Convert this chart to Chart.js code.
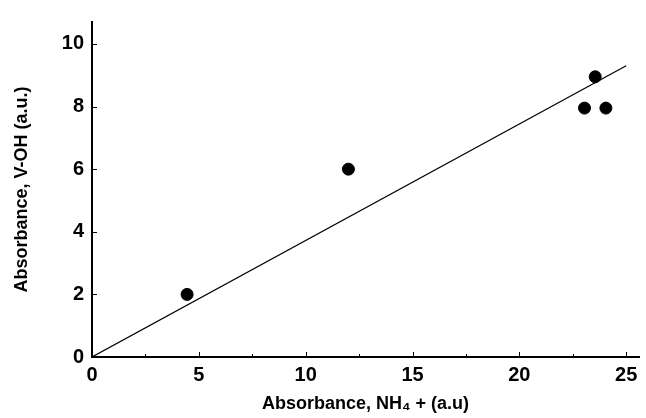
<!DOCTYPE html>
<html>
<head>
<meta charset="utf-8">
<script src="https://cdn.jsdelivr.net/npm/chart.js@4.4.1/dist/chart.umd.min.js"></script>
<style>
  html, body { margin: 0; padding: 0; background: #fff; }
  #wrap { width: 646px; height: 418px; }
</style>
</head>
<body>
<div id="wrap"><canvas id="myChart" width="646" height="418"></canvas></div>
<script>
const nh4Values = [4.45, 12.0, 23.05, 23.55, 24.05];
const vohValues = [2.0, 6.0, 7.95, 8.95, 7.95];
const fitX = [0, 25];
const fitY = [0, 9.3];
const xTicks = [0, 2.5, 5, 7.5, 10, 12.5, 15, 17.5, 20, 22.5, 25];
const yTicks = [0, 2, 4, 6, 8, 10];

const points = nh4Values.map((x, i) => ({ x: x, y: vohValues[i] }));
const fitLine = fitX.map((x, i) => ({ x: x, y: fitY[i] }));

// ticks drawn inward from the axes
const innerTicks = {
  id: 'innerTicks',
  afterDatasetsDraw(chart) {
    const ctx = chart.ctx;
    const xs = chart.scales.x;
    const ys = chart.scales.y;
    const area = chart.chartArea;
    ctx.save();
    ctx.strokeStyle = '#000';
    ctx.lineWidth = 1;
    xTicks.forEach(v => {
      const px = Math.round(xs.getPixelForValue(v)) + 0.5;
      ctx.beginPath();
      ctx.moveTo(px, area.bottom);
      ctx.lineTo(px, area.bottom - (v % 5 === 0 ? 5 : 3));
      ctx.stroke();
    });
    yTicks.forEach(v => {
      const py = Math.round(ys.getPixelForValue(v)) + 0.5;
      ctx.beginPath();
      ctx.moveTo(area.left, py);
      ctx.lineTo(area.left + 5, py);
      ctx.stroke();
    });
    ctx.restore();
  }
};

Chart.defaults.font.family = "'Liberation Sans', Arial, sans-serif";
Chart.defaults.color = '#000';

new Chart(document.getElementById('myChart'), {
  type: 'scatter',
  data: {
    datasets: [
      {
        label: 'fit',
        type: 'line',
        data: fitLine,
        borderColor: '#000',
        borderWidth: 1.2,
        pointRadius: 0,
        fill: false
      },
      {
        label: 'data',
        data: points,
        backgroundColor: '#000',
        borderColor: '#000',
        pointRadius: 6,
        pointHoverRadius: 6
      }
    ]
  },
  options: {
    responsive: false,
    animation: false,
    layout: { padding: { top: 22, right: 1, left: 0, bottom: 0 } },
    plugins: {
      legend: { display: false },
      tooltip: { enabled: false }
    },
    scales: {
      x: {
        type: 'linear',
        min: 0,
        max: 25.6,
        afterBuildTicks: s => { s.ticks = xTicks.map(v => ({ value: v })); },
        afterFit: s => { s.height = 61; },
        grid: { display: false, drawTicks: false },
        border: { display: true, color: '#000', width: 2 },
        ticks: {
          padding: 6,
          maxRotation: 0,
          autoSkip: false,
          font: { size: 20, weight: 'bold' },
          callback: v => (v % 5 === 0 ? v : '')
        },
        title: {
          display: true,
          text: 'Absorbance, NH\u2084 + (a.u)',
          font: { size: 18, weight: 'bold' },
          padding: { top: 6, bottom: 3 }
        }
      },
      y: {
        min: 0,
        max: 10.7,
        afterBuildTicks: s => { s.ticks = yTicks.map(v => ({ value: v })); },
        afterFit: s => { s.width = 92; },
        grid: { display: false, drawTicks: false },
        border: { display: true, color: '#000', width: 2 },
        ticks: {
          padding: 8,
          font: { size: 20, weight: 'bold' }
        },
        title: {
          display: true,
          text: 'Absorbance, V-OH (a.u.)',
          font: { size: 18, weight: 'bold' },
          padding: { top: 11, bottom: 10 }
        }
      }
    }
  },
  plugins: [innerTicks]
});
</script>
</body>
</html>
